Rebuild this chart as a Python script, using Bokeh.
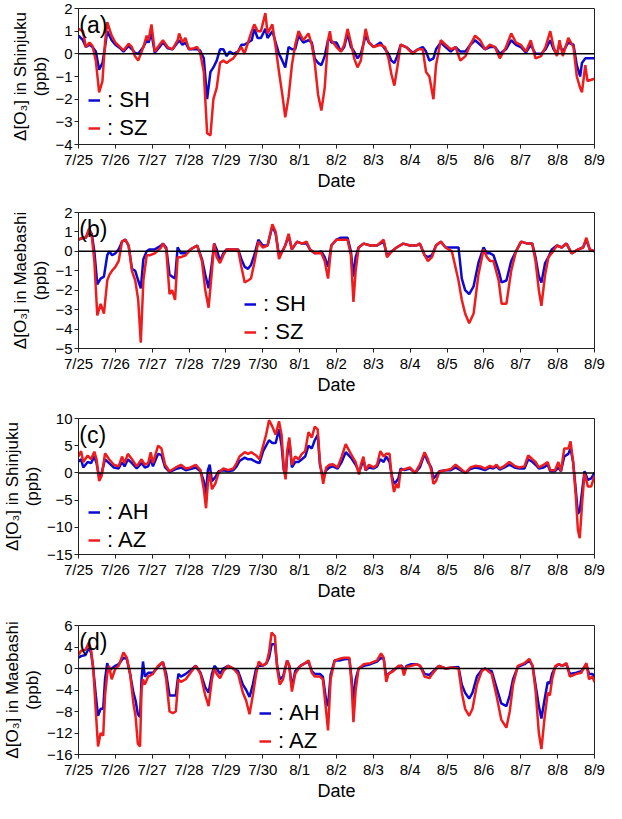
from bokeh.plotting import figure
from bokeh.models import Range1d, FixedTicker, Span, Legend, LegendItem, Label
from bokeh.layouts import column
from bokeh.embed import file_html
from bokeh.resources import INLINE

# ---------------- data (days since 7/25 00:00) ----------------
x_ticks = list(range(15))
x_labels = ["7/25", "7/26", "7/27", "7/28", "7/29", "7/30", "8/1", "8/2",
            "8/3", "8/4", "8/5", "8/6", "8/7", "8/8", "8/9"]

# Panel (a): Shinjuku, SH (blue) / SZ (red)
t_a = [0.00, 0.12, 0.20, 0.30, 0.38, 0.47, 0.56, 0.65, 0.72, 0.78, 0.90, 1.00, 1.13, 1.22, 1.36,
       1.45, 1.53, 1.62, 1.76, 1.85, 1.90, 1.98, 2.07, 2.20, 2.29, 2.42, 2.55, 2.69, 2.73, 2.82,
       2.90, 3.00, 3.13, 3.22, 3.30, 3.40, 3.49, 3.58, 3.66, 3.75, 3.84, 3.93, 4.02, 4.10, 4.20,
       4.33, 4.42, 4.50, 4.60, 4.70, 4.77, 4.86, 4.95, 5.07, 5.13, 5.26, 5.35, 5.44, 5.53, 5.61,
       5.70, 5.79, 5.88, 5.97, 6.10, 6.24, 6.33, 6.41, 6.50, 6.59, 6.68, 6.77, 6.82, 6.86, 7.00,
       7.12, 7.21, 7.30, 7.39, 7.48, 7.57, 7.66, 7.79, 7.88, 8.01, 8.19, 8.32, 8.41, 8.49, 8.57,
       8.65, 8.74, 8.89, 9.07, 9.21, 9.34, 9.43, 9.52, 9.63, 9.70, 9.83, 9.96, 10.10, 10.23, 10.36,
       10.50, 10.63, 10.76, 10.90, 11.03, 11.16, 11.30, 11.43, 11.60, 11.74, 11.87, 12.00, 12.14, 12.27, 12.40,
       12.55, 12.67, 12.80, 12.89, 12.98, 13.05, 13.14, 13.29, 13.43, 13.52, 13.61, 13.66, 13.75, 13.81, 14.00]
sz_a = [1.1, 1.0, 0.3, 0.5, 0.35, -0.3, -1.7, -1.2, 0.5, 1.4, 0.8, 0.5, 0.3, 0.15, 0.45,
        0.3, -0.1, -0.3, 0.3, 0.8, 0.6, 1.3, 0.1, 0.4, 0.6, 0.3, 0.2, 0.6, 0.9, 0.5,
        0.7, 0.2, 0.25, 0.3, 0.05, -0.8, -3.5, -3.6, -2.0, -1.5, -0.4, -0.3, -0.4, -0.3, -0.2,
        0.1, 0.3, 0.0, 0.5, 1.0, 1.3, 1.0, 1.0, 1.8, 0.9, 1.3, 0.3, -0.8, -1.8, -2.8,
        -1.9, -0.5, 0.4, 1.0, 0.6, 0.9, 0.4, -0.4, -1.8, -2.5, -1.5, 0.6, 1.0, 0.6, 0.3,
        0.1, 0.4, 1.1, 0.5, -0.2, -0.6, -0.3, 1.1, 0.5, 0.3, 0.4, 0.3, -0.2, -0.9, -1.4,
        -0.6, 0.4, 0.3, 0.0, 0.2, 0.2, -0.8, -1.0, -2.0, -0.5, 0.6, 0.4, 0.2, 0.3, -0.3,
        -0.1, 0.4, 0.8, 0.6, 0.2, 0.4, 0.3, -0.2, 0.3, 0.9, 0.5, 0.4, 0.1, 0.6, -0.2,
        -0.1, 0.3, 1.0, 0.3, -0.1, 0.6, -0.1, 0.7, 0.3, -1.0, -1.5, -1.7, -0.5, -1.2, -1.1]
sh_a = [0.8, 0.6, 0.3, 0.4, 0.3, 0.1, -0.7, -0.4, 0.3, 1.0, 0.6, 0.4, 0.25, 0.1, 0.35,
        0.2, 0.05, 0.0, 0.3, 0.6, 0.5, 0.9, 0.05, 0.3, 0.5, 0.25, 0.2, 0.5, 0.6, 0.4,
        0.5, 0.2, 0.2, 0.2, 0.15, -0.2, -2.0, -0.8, -0.6, -0.3, 0.2, 0.2, -0.1, 0.1, 0.0,
        0.1, 0.4, 0.4, 0.5, 0.6, 1.1, 0.7, 0.7, 1.1, 0.7, 1.0, 0.5, 0.0, -0.3, -0.6,
        0.3, 0.2, 0.2, 0.8, 0.5, 0.6, 0.5, -0.2, -0.4, -0.5, -0.1, 0.6, 0.7, 0.5, 0.5,
        0.1, 0.3, 0.9, 0.3, 0.1, -0.2, 0.0, 0.8, 0.5, 0.3, 0.5, 0.2, 0.0, -0.3, -0.4,
        -0.1, 0.4, 0.3, 0.05, 0.2, 0.3, 0.1, -0.3, -0.2, 0.2, 0.5, 0.3, 0.1, 0.3, 0.1,
        0.1, 0.4, 0.6, 0.4, 0.2, 0.3, 0.3, 0.0, 0.2, 0.6, 0.4, 0.3, 0.05, 0.4, 0.0,
        0.0, 0.2, 0.6, 0.2, 0.0, 0.4, 0.1, 0.5, 0.4, -0.5, -1.0, -0.4, -0.2, -0.2, -0.2]

# Panel (b): Maebashi, SH (blue) / SZ (red)
t_b = [0.00, 0.12, 0.20, 0.29, 0.36, 0.43, 0.51, 0.60, 0.69, 0.78, 0.84, 0.91, 1.00, 1.09, 1.18,
       1.27, 1.36, 1.45, 1.54, 1.62, 1.69, 1.76, 1.85, 1.93, 2.07, 2.24, 2.29, 2.38, 2.47, 2.54,
       2.62, 2.69, 2.78, 2.91, 3.04, 3.22, 3.35, 3.44, 3.53, 3.62, 3.68, 3.75, 3.84, 3.93, 4.02,
       4.20, 4.33, 4.42, 4.51, 4.60, 4.68, 4.77, 4.88, 5.00, 5.13, 5.26, 5.35, 5.44, 5.53, 5.61,
       5.70, 5.79, 5.93, 6.06, 6.19, 6.28, 6.41, 6.59, 6.68, 6.77, 6.86, 7.00, 7.12, 7.30, 7.39,
       7.46, 7.52, 7.60, 7.74, 7.92, 8.10, 8.28, 8.37, 8.50, 8.63, 8.81, 8.99, 9.17, 9.26, 9.39,
       9.48, 9.59, 9.70, 9.83, 9.96, 10.13, 10.31, 10.40, 10.49, 10.60, 10.72, 10.85, 10.99, 11.08, 11.17,
       11.26, 11.40, 11.48, 11.61, 11.74, 11.87, 12.01, 12.18, 12.31, 12.40, 12.49, 12.56, 12.66, 12.75, 12.84,
       12.98, 13.11, 13.24, 13.38, 13.56, 13.69, 13.78, 13.87, 14.00]
sz_b = [0.6, 0.7, 0.7, 1.2, 0.8, -0.5, -3.3, -2.7, -3.2, -1.5, -1.2, -1.0, -0.8, -0.5, 0.5,
        0.6, 0.3, -1.0, -1.5, -2.5, -4.7, -1.5, -0.2, -0.2, -0.1, 0.2, 0.4, 0.1, -2.2, -2.0,
        -2.5, -0.3, -0.3, -0.2, 0.1, 0.3, -0.5, -2.0, -2.9, -1.0, 0.4, -0.3, -0.6, -0.2, 0.1,
        0.1, 0.1, -0.8, -1.6, -1.5, -1.4, -0.6, 0.5, 0.2, 0.3, 1.4, 1.0, -0.4, 0.0, 0.3,
        0.9, 0.1, 0.5, 0.4, 0.5, 0.1, -0.1, -0.1, -0.5, -1.4, 0.3, 0.6, 0.6, 0.6, -0.2,
        -2.6, -1.0, 0.2, 0.4, 0.3, 0.3, 0.6, -0.3, 0.0, 0.2, 0.4, 0.3, 0.3, 0.4, -0.2,
        -0.5, -0.3, 0.3, 0.5, 0.2, 0.0, -1.5, -2.5, -3.2, -3.7, -3.2, -1.2, 0.1, -0.3, -0.5,
        -0.5, -1.5, -2.7, -2.7, -1.0, 0.0, 0.5, 0.4, 0.4, -0.5, -2.0, -2.8, -1.2, -0.3, -0.1,
        0.3, 0.2, 0.4, -0.1, 0.1, 0.2, 0.7, 0.1, 0.0]
sh_b = [0.6, 0.7, 0.7, 1.1, 0.9, 0.0, -1.7, -1.4, -1.3, -0.2, 0.0, -0.2, -0.1, 0.1, 0.5,
        0.6, 0.3, -0.9, -1.0, -1.5, -1.9, -0.4, 0.0, 0.1, 0.1, 0.3, 0.4, 0.2, -1.2, -1.3,
        -1.4, 0.2, -0.1, -0.1, 0.1, 0.3, -0.4, -1.2, -1.9, -0.6, 0.4, 0.1, -0.5, -0.1, 0.1,
        0.1, 0.1, -0.4, -0.8, -0.9, -0.7, -0.2, 0.6, 0.3, 0.3, 1.3, 0.9, -0.2, 0.0, 0.3,
        0.8, 0.1, 0.5, 0.4, 0.4, 0.1, -0.1, 0.0, -0.3, -0.8, 0.3, 0.6, 0.7, 0.7, 0.0,
        -1.3, -0.3, 0.2, 0.4, 0.3, 0.3, 0.5, -0.2, 0.0, 0.2, 0.4, 0.3, 0.3, 0.4, -0.2,
        -0.3, -0.2, 0.3, 0.5, 0.2, 0.2, 0.2, -1.4, -2.0, -2.2, -1.8, -0.6, 0.2, -0.1, -0.1,
        -0.2, -1.0, -1.6, -1.5, -0.5, 0.0, 0.5, 0.4, 0.4, -0.3, -1.3, -1.6, -0.6, -0.3, 0.1,
        0.3, 0.2, 0.4, -0.1, 0.1, 0.2, 0.6, 0.1, 0.0]

# Panel (c): Shinjuku, AH (blue) / AZ (red)
t_c = [0.00, 0.07, 0.13, 0.25, 0.34, 0.43, 0.49, 0.56, 0.63, 0.72, 0.83, 0.96, 1.09, 1.18, 1.25,
       1.34, 1.45, 1.58, 1.71, 1.80, 1.89, 1.96, 2.02, 2.16, 2.25, 2.35, 2.47, 2.64, 2.78, 2.91,
       3.04, 3.18, 3.31, 3.40, 3.46, 3.51, 3.56, 3.62, 3.71, 3.80, 3.93, 4.06, 4.20, 4.29, 4.37,
       4.51, 4.60, 4.69, 4.82, 4.91, 5.01, 5.09, 5.17, 5.26, 5.35, 5.44, 5.51, 5.57, 5.62, 5.66,
       5.72, 5.79, 5.88, 5.97, 6.06, 6.15, 6.24, 6.33, 6.41, 6.49, 6.55, 6.64, 6.72, 6.81, 6.90,
       7.03, 7.14, 7.25, 7.39, 7.52, 7.61, 7.66, 7.73, 7.79, 7.88, 8.01, 8.10, 8.19, 8.28, 8.35,
       8.44, 8.50, 8.56, 8.63, 8.68, 8.74, 8.85, 8.99, 9.13, 9.26, 9.39, 9.48, 9.57, 9.63, 9.70,
       9.79, 9.96, 10.10, 10.23, 10.36, 10.50, 10.63, 10.76, 10.90, 11.03, 11.16, 11.25, 11.34, 11.43, 11.56,
       11.69, 11.83, 11.96, 12.10, 12.20, 12.32, 12.40, 12.49, 12.62, 12.73, 12.80, 12.93, 13.02, 13.09, 13.18,
       13.29, 13.35, 13.42, 13.49, 13.55, 13.60, 13.67, 13.73, 13.82, 13.91, 14.00]
az_c = [3.0, 4.0, 2.0, 3.2, 2.5, 3.9, 2.5, -1.5, -0.5, 3.6, 2.5, 1.5, 1.2, 3.0, 1.8,
        3.5, 2.5, 1.2, 2.5, 1.5, 1.8, 3.8, 1.8, 5.0, 4.5, 1.5, 0.3, 1.0, 1.5, 0.8,
        1.0, 1.5, 0.5, -3.0, -6.5, -2.0, 0.2, -3.0, -2.0, 0.0, 0.8, 0.5, 0.8, 1.8, 3.0,
        3.8, 3.5, 3.8, 3.2, 2.5, 5.0, 7.0, 9.7, 8.5, 7.0, 9.5, 7.0, 1.0, -1.2, 4.0,
        6.5, 1.5, 3.0, 2.5, 3.5, 4.0, 7.5, 6.5, 8.5, 8.0, 2.0, -2.0, 1.0, 1.5, 1.6,
        1.0, 3.0, 5.3, 3.5, 2.0, -0.3, 1.5, 3.0, 0.5, 1.5, 1.0, 1.5, 4.0, 3.0, 3.5,
        3.5, -1.0, -3.5, -2.0, -2.8, 0.5, 0.7, 1.0, 0.0, 1.5, 3.8, 2.5, 0.5, -2.0, -1.5,
        0.2, 0.5, 0.7, 1.5, 0.8, 0.0, 1.0, 1.3, 1.2, 0.8, 1.3, 1.0, 1.5, 0.8, 1.3,
        2.0, 1.3, 1.0, 1.2, 3.2, 2.5, 2.0, 1.0, 1.5, 2.0, 0.5, 0.5, 2.0, 0.3, 4.5,
        4.5, 5.8, 2.0, -4.0, -10.5, -12.0, -5.0, 0.0, -2.5, -2.5, -0.5]
ah_c = [2.1, 2.5, 1.0, 2.0, 1.8, 3.0, 1.8, -0.8, 0.0, 2.5, 1.8, 1.0, 0.8, 2.0, 1.2,
        2.5, 1.8, 0.8, 1.8, 1.0, 1.2, 2.5, 1.2, 3.5, 3.3, 1.0, 0.2, 0.7, 1.0, 0.5,
        0.7, 1.0, 0.3, -1.5, -4.0, 0.5, 1.5, -1.5, -0.8, 0.3, 0.5, 0.3, 0.5, 1.2, 2.2,
        2.8, 2.5, 2.5, 2.0, 1.8, 4.0, 5.0, 6.0, 5.5, 5.5, 8.0, 5.0, 0.5, -0.5, 3.0,
        6.0, 1.0, 2.0, 2.0, 2.5, 3.0, 5.0, 4.5, 6.0, 7.0, 1.5, -1.0, 0.5, 1.0, 1.2,
        0.8, 2.0, 3.8, 2.8, 1.5, 0.2, 1.0, 2.5, 0.5, 1.0, 0.8, 1.2, 2.5, 2.0, 3.0,
        2.0, -0.5, -2.0, -1.5, -1.0, 0.8, 0.5, 0.8, 0.0, 1.0, 3.5, 2.0, 1.0, -1.0, -0.5,
        0.3, 0.5, 0.5, 1.0, 0.5, 0.0, 0.7, 1.0, 0.8, 0.5, 1.0, 0.8, 1.2, 0.6, 1.0,
        1.5, 1.0, 0.8, 0.8, 2.5, 2.0, 1.5, 0.8, 1.0, 1.5, 0.3, 0.3, 1.0, 0.3, 3.0,
        3.5, 4.5, 2.0, -3.0, -7.5, -7.0, -3.0, 0.3, -1.3, -1.0, 0.0]

# Panel (d): Maebashi, AH (blue) / AZ (red)
t_d = [0.00, 0.07, 0.19, 0.28, 0.34, 0.40, 0.47, 0.53, 0.60, 0.67, 0.72, 0.78, 0.83, 0.90, 1.00,
       1.09, 1.22, 1.31, 1.40, 1.49, 1.55, 1.61, 1.67, 1.71, 1.75, 1.80, 1.89, 2.02, 2.16, 2.29,
       2.38, 2.47, 2.56, 2.64, 2.71, 2.78, 2.91, 3.04, 3.18, 3.31, 3.44, 3.53, 3.62, 3.69, 3.75,
       3.84, 3.93, 4.06, 4.20, 4.33, 4.46, 4.55, 4.64, 4.73, 4.82, 4.89, 5.00, 5.10, 5.17, 5.24,
       5.33, 5.39, 5.46, 5.55, 5.66, 5.72, 5.79, 5.88, 6.02, 6.15, 6.24, 6.33, 6.41, 6.55, 6.63,
       6.72, 6.77, 6.84, 6.95, 7.08, 7.21, 7.35, 7.41, 7.46, 7.52, 7.60, 7.74, 7.92, 8.10, 8.21,
       8.28, 8.35, 8.41, 8.54, 8.68, 8.77, 8.83, 8.90, 9.03, 9.17, 9.27, 9.39, 9.52, 9.60, 9.78,
       9.96, 10.13, 10.31, 10.40, 10.49, 10.60, 10.69, 10.81, 10.94, 11.03, 11.12, 11.21, 11.34, 11.47, 11.61,
       11.70, 11.79, 11.92, 12.10, 12.23, 12.32, 12.40, 12.49, 12.56, 12.64, 12.73, 12.79, 12.85, 12.94, 13.03,
       13.12, 13.24, 13.33, 13.51, 13.64, 13.78, 13.85, 13.94, 14.00]
az_d = [2.5, 3.3, 3.5, 4.8, 3.5, 0.0, -8.0, -14.5, -12.0, -12.5, -5.0, -1.0, 0.5, -2.0, 0.0,
        0.5, 3.0, 2.0, -1.0, -6.5, -9.0, -14.0, -14.5, -4.0, -2.0, -3.0, -1.5, -1.0, 0.5, 1.2,
        -2.0, -8.0, -8.3, -8.0, -2.0, -2.5, -2.0, -0.8, 0.5, -1.0, -5.0, -7.0, -2.0, 0.0, -1.0,
        -1.8, -0.5, 0.5, 0.0, -1.0, -4.5, -6.0, -8.5, -5.0, -1.0, 1.3, 0.5, 1.0, 3.0, 6.7,
        6.0, 0.0, -3.0, -2.0, 1.5, 0.5, -4.3, -1.0, 0.5, 1.0, 1.5, -0.8, -1.5, -1.5, -2.0,
        -8.0, -11.5, -2.0, 1.5, 1.8, 2.0, 2.0, -3.0, -10.0, -4.0, 0.0, 0.8, 1.0, 1.5, 2.8,
        2.0, -2.5, -1.0, -0.5, 0.5, 0.5, -1.3, 0.3, 0.5, 0.8, 0.5, -1.5, -1.8, -1.0, 0.5,
        0.0, 0.2, 0.0, -4.5, -7.5, -8.8, -7.5, -3.0, -0.5, 0.0, -0.5, -1.0, -5.0, -9.5, -11.0,
        -8.0, -3.0, 0.5, 1.0, 1.8, 0.5, -4.0, -12.0, -15.0, -9.5, -4.5, -5.0, -2.0, 0.5, 0.8,
        0.5, 1.0, -1.5, -1.0, -0.8, 1.0, -2.0, -1.5, -2.5]
ah_d = [2.0, 2.3, 2.5, 3.8, 3.0, 0.0, -5.0, -8.8, -7.5, -7.5, -2.0, 1.0, -0.5, 0.0, 0.5,
        0.8, 2.0, 1.8, -1.0, -4.5, -6.0, -8.5, -9.0, -2.0, 1.3, -1.5, -0.8, -0.8, 0.3, 1.2,
        -1.0, -5.0, -5.0, -5.0, -1.0, -1.5, -1.0, -0.3, 0.5, -0.8, -3.5, -4.5, -1.0, 0.5, 0.0,
        -1.0, 0.0, 0.5, 0.0, -0.5, -3.0, -4.0, -5.3, -3.0, 0.0, 0.5, 0.5, 1.0, 2.0, 4.5,
        4.5, 0.5, -2.0, -1.5, 1.5, 0.5, -3.5, -0.5, 0.5, 1.0, 1.3, -0.5, -1.0, -1.0, -1.5,
        -6.0, -7.0, -1.2, 1.5, 1.5, 1.7, 1.8, -2.0, -6.0, -2.0, 0.0, 0.5, 0.8, 1.3, 2.0,
        1.8, -1.5, -1.0, -0.3, 0.3, 0.5, -0.5, 0.5, 0.8, 0.8, 0.5, -1.0, -1.2, -0.7, 0.5,
        0.0, 0.2, 0.3, -3.0, -4.5, -5.6, -4.5, -1.5, -0.3, 0.0, -0.3, -0.5, -3.5, -6.5, -7.0,
        -5.0, -2.0, 0.3, 0.8, 1.5, 0.5, -3.0, -7.0, -9.3, -6.0, -2.5, -2.8, -1.0, 0.3, 0.8,
        0.5, 0.8, -1.0, -0.8, -0.5, 0.8, -1.0, -1.0, -1.5]

# ---------------- styling ----------------
BLUE = "#0a0ad2"
RED = "#ee1c1c"
NARROW = "'Liberation Sans Narrow', 'Arial Narrow', 'Liberation Sans', Arial, sans-serif"
SANS = "'Liberation Sans', Arial, sans-serif"
W = 610


def make_panel(letter, t, s_blue, s_red, names, ylab, yr, yticks, yover,
               height, btop, bbot, leg_loc):
    p = figure(width=W, height=height, output_backend="svg", toolbar_location=None,
               x_range=Range1d(0, 14), y_range=Range1d(*yr),
               min_border_left=68, min_border_right=16,
               min_border_top=btop, min_border_bottom=bbot)
    p.xgrid.visible = False
    p.ygrid.visible = False
    p.outline_line_color = "#222222"
    p.outline_line_width = 1
    p.background_fill_color = "white"
    p.border_fill_color = "white"

    xa = p.xaxis[0]
    xa.ticker = FixedTicker(ticks=x_ticks)
    xa.major_label_overrides = {i: s for i, s in zip(x_ticks, x_labels)}
    xa.axis_label = "Date"
    ya = p.yaxis[0]
    ya.ticker = FixedTicker(ticks=yticks)
    ya.major_label_overrides = yover
    ya.axis_label = ylab
    for ax in (xa, ya):
        ax.minor_tick_line_color = None
        ax.major_tick_in = 0
        ax.major_tick_out = 4
        ax.axis_line_color = "#222222"
        ax.major_tick_line_color = "#222222"
        ax.major_label_text_font = NARROW
        ax.major_label_text_font_size = "15px"
        ax.major_label_text_color = "black"
        ax.axis_label_text_font_style = "normal"
        ax.axis_label_text_color = "black"
        ax.major_label_standoff = 2
    xa.axis_label_text_font = NARROW
    xa.axis_label_text_font_size = "18px"
    xa.axis_label_standoff = 0
    ya.axis_label_text_font = SANS
    ya.axis_label_text_font_size = "17px"
    ya.axis_label_text_line_height = 1.05
    ya.axis_label_standoff = 2

    p.add_layout(Span(location=0, dimension="width", line_color="black", line_width=1.5))
    rb = p.line(t, s_blue, line_color=BLUE, line_width=2.5)
    rr = p.line(t, s_red, line_color=RED, line_width=2.5)

    leg = Legend(items=[LegendItem(label=": " + names[0], renderers=[rb]),
                        LegendItem(label=": " + names[1], renderers=[rr])],
                 location=leg_loc, orientation="vertical",
                 glyph_width=12, glyph_height=26, label_height=26, spacing=2,
                 label_standoff=7, padding=0, margin=0,
                 label_text_font=NARROW, label_text_font_size="22px",
                 label_text_color="black",
                 border_line_alpha=0, background_fill_alpha=0)
    p.add_layout(leg)

    p.add_layout(Label(x=0.02, y=yr[1], y_offset=-3, text="(" + letter + ")",
                       text_baseline="top", text_align="left",
                       text_font=NARROW, text_font_size="23px", text_color="black"))
    return p


pa = make_panel("a", t_a, sh_a, sz_a, ("SH", "SZ"), "Δ[O₃] in Shinjuku\n(ppb)",
                (-4, 2), [-4, -3, -2, -1, 0, 1, 2], {}, 204, 8, 60, (10, 3))
pb = make_panel("b", t_b, sh_b, sz_b, ("SH", "SZ"), "Δ[O₃] in Maebashi\n(ppb)",
                (-5, 2), [-5, -4, -3, -2, -1, 0, 1, 2], {}, 206, 8, 62, (166, 3))
pc = make_panel("c", t_c, ah_c, az_c, ("AH", "AZ"), "Δ[O₃] in Shinjuku\n(ppb)",
                (-15, 10), [-15, -10, -5, 0, 5, 10], {}, 206, 8, 62, (10, 1))
pd = make_panel("d", t_d, ah_d, az_d, ("AH", "AZ"), "Δ[O₃] in Maebashi\n(ppb)",
                (-16, 8), [-16, -12, -8, -4, 0, 4, 8], {8: "6"}, 187, 9, 44, (181, 0))

layout = column(pa, pb, pc, pd, spacing=0)
open("out.html", "w").write(file_html(layout, INLINE))
